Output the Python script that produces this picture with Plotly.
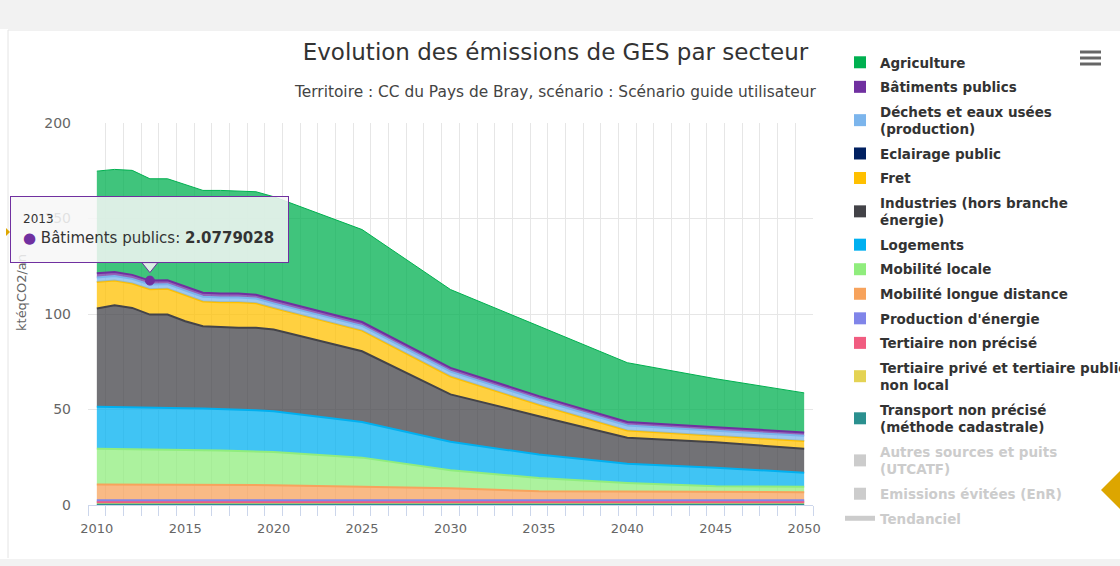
import plotly.graph_objects as go

# ---------------- data (kteqCO2/an) ----------------
years = [2010, 2011, 2012, 2013, 2014, 2015, 2016, 2017, 2018, 2019, 2020,
         2025, 2030, 2035, 2040, 2045, 2050]

agriculture = [53.5, 53.7, 54.7, 53.3, 53.1, 53.2, 53.6, 54.0, 53.6, 53.9, 53.8,
               48.4, 41.0, 36.6, 31.0, 25.4, 20.7]
batiments_publics = [2.13, 2.12, 2.10, 2.0779028, 2.07, 2.06, 2.05, 2.05, 2.04, 2.04, 2.03,
                     2.0, 1.95, 1.9, 1.85, 1.8, 1.8]
dechets = [2.27, 2.28, 2.30, 2.32, 2.33, 2.34, 2.35, 2.35, 2.36, 2.36, 2.37,
           2.40, 2.45, 2.50, 2.55, 2.60, 2.60]
eclairage = [0.1, 0.1, 0.1, 0.1, 0.1, 0.1, 0.1, 0.1, 0.1, 0.1, 0.1,
             0.1, 0.1, 0.1, 0.1, 0.1, 0.1]
fret = [13.9, 12.9, 12.8, 13.3, 13.5, 13.9, 13.0, 13.1, 13.4, 12.8, 11.2,
        10.8, 9.4, 6.0, 3.8, 3.3, 4.1]
industries = [51.4, 53.2, 51.9, 48.5, 48.7, 45.5, 43.1, 42.8, 42.8, 43.2, 42.8,
              37.1, 24.8, 20.1, 13.6, 13.4, 12.5]
logements = [22.0, 22.1, 22.1, 22.1, 22.0, 21.9, 21.9, 21.8, 21.7, 21.6, 21.4,
             18.6, 14.9, 12.2, 10.1, 9.7, 7.4]
mobilite_locale = [18.8, 18.6, 18.5, 18.4, 18.3, 18.1, 18.0, 17.9, 17.7, 17.5, 17.3,
                   15.2, 9.4, 7.0, 4.5, 3.1, 2.8]
mobilite_longue = [8.25, 8.25, 8.25, 8.25, 8.25, 8.25, 8.15, 8.15, 8.15, 8.05, 7.95,
                   7.15, 6.35, 4.75, 4.55, 4.25, 4.25]
production_energie = [0.9, 0.9, 0.9, 0.9, 0.9, 0.9, 0.9, 0.9, 0.9, 0.9, 0.9,
                      0.9, 0.9, 0.9, 0.9, 0.9, 0.9]
tertiaire_np = [0.15, 0.15, 0.15, 0.15, 0.15, 0.15, 0.15, 0.15, 0.15, 0.15, 0.15,
                0.15, 0.15, 0.15, 0.15, 0.15, 0.15]
tertiaire_prive = [1.1, 1.1, 1.1, 1.1, 1.1, 1.1, 1.1, 1.1, 1.1, 1.1, 1.1,
                   1.1, 1.1, 1.1, 1.1, 1.1, 1.1]
transport_np = [0.3, 0.3, 0.3, 0.3, 0.3, 0.3, 0.3, 0.3, 0.3, 0.3, 0.3,
                0.3, 0.3, 0.3, 0.3, 0.3, 0.3]

# legend labels (Highcharts order: first = top of stack)
names = ["Agriculture", "Bâtiments publics", "Déchets et eaux usées<br>(production)",
         "Eclairage public", "Fret", "Industries (hors branche<br>énergie)", "Logements",
         "Mobilité locale", "Mobilité longue distance", "Production d'énergie",
         "Tertiaire non précisé", "Tertiaire privé et tertiaire public<br>non local",
         "Transport non précisé<br>(méthode cadastrale)"]
values = [agriculture, batiments_publics, dechets, eclairage, fret, industries, logements,
          mobilite_locale, mobilite_longue, production_energie, tertiaire_np,
          tertiaire_prive, transport_np]
colors = ["#00B050", "#7030A0", "#7CB5EC", "#002060", "#FFC000", "#434348", "#00B0F0",
          "#90ED7D", "#F7A35C", "#8085E9", "#F15C80", "#E4D354", "#2B908F"]
hidden_names = ["Autres sources et puits<br>(UTCATF)", "Emissions évitées (EnR)", "Tendanciel"]

tooltip_year = 2013
tooltip_series = "Bâtiments publics"

# ---------------- layout geometry ----------------
W, H = 1120, 566
ML, MR, MT, MB = 88, 307, 10, 10          # outer grid area (taller than the axes)
PLOT_TOP, PLOT_BOTTOM = 123, 505          # pixel rows of the y axis
GH = H - MT - MB
PW = W - ML - MR


def px2x(px):
    return (px - ML) / PW


def py2y(py):
    return (H - MB - py) / GH


def rgba(hexc, a):
    h = hexc.lstrip("#")
    return "rgba(%d,%d,%d,%.2f)" % (int(h[0:2], 16), int(h[2:4], 16), int(h[4:6], 16), a)


FONT = "DejaVu Sans"
fig = go.Figure()

# stacked areas: bottom series first
for name, vals, col in reversed(list(zip(names, values, colors))):
    lw = 0 if name == "Eclairage public" else (1 if name == "Agriculture" else 2)
    fig.add_trace(go.Scatter(
        x=years, y=vals, name=name, mode="lines", stackgroup="ges",
        line=dict(color=col, width=lw),
        fillcolor=rgba(col, 0.75), showlegend=False, hoverinfo="skip"))

# legend entries (square swatches)
for name, col in zip(names, colors):
    fig.add_trace(go.Scatter(x=[None], y=[None], mode="markers", name=name, legendgroup=name,
                             marker=dict(symbol="square", size=16, color=col),
                             showlegend=True, hoverinfo="skip"))
for hn in hidden_names:
    styled = "<br>".join('<span style="color:#cccccc">%s</span>' % part for part in hn.split("<br>"))
    if hn == "Tendanciel":
        fig.add_trace(go.Scatter(x=[None], y=[None], mode="lines", name=styled, legendgroup=hn,
                                 line=dict(color="#cccccc", width=1.5), showlegend=True))
    else:
        fig.add_trace(go.Scatter(x=[None], y=[None], mode="markers", name=styled, legendgroup=hn,
                                 marker=dict(symbol="square", size=16, color="#cccccc"),
                                 showlegend=True))

# hovered point (top of the tooltip series)
idx = years.index(tooltip_year)
si = names.index(tooltip_series)
cum = sum(v[idx] for v in values[si:])
fig.add_trace(go.Scatter(x=[tooltip_year], y=[cum], mode="markers", showlegend=False,
                         marker=dict(color="#7030A0", size=9, line=dict(color="#7030A0", width=1)),
                         hoverinfo="skip"))

shapes = [
    # page chrome
    dict(type="rect", xref="paper", yref="paper", x0=px2x(0), x1=px2x(W), y0=py2y(29), y1=py2y(0),
         fillcolor="#f2f2f2", line=dict(width=0), layer="below"),
    dict(type="line", xref="paper", yref="paper", x0=px2x(8), x1=px2x(W), y0=py2y(30), y1=py2y(30),
         line=dict(color="#e4e4e4", width=1)),
    dict(type="line", xref="paper", yref="paper", x0=px2x(8), x1=px2x(8), y0=py2y(30), y1=py2y(558),
         line=dict(color="#e4e4e4", width=1)),
    dict(type="rect", xref="paper", yref="paper", x0=px2x(0), x1=px2x(W), y0=py2y(H), y1=py2y(559),
         fillcolor="#f2f2f2", line=dict(width=0), layer="below"),
    # hamburger menu
    dict(type="line", xref="paper", yref="paper", x0=px2x(1080), x1=px2x(1101), y0=py2y(52), y1=py2y(52),
         line=dict(color="#666666", width=3)),
    dict(type="line", xref="paper", yref="paper", x0=px2x(1080), x1=px2x(1101), y0=py2y(58), y1=py2y(58),
         line=dict(color="#666666", width=3)),
    dict(type="line", xref="paper", yref="paper", x0=px2x(1080), x1=px2x(1101), y0=py2y(64), y1=py2y(64),
         line=dict(color="#666666", width=3)),
    # orange markers of the page
    dict(type="path", xref="paper", yref="paper",
         path="M %f %f L %f %f L %f %f L %f %f Z" % (px2x(1101), py2y(490), px2x(1121), py2y(470),
                                                     px2x(1141), py2y(490), px2x(1121), py2y(510)),
         fillcolor="#DDA600", line=dict(width=0)),
    dict(type="path", xref="paper", yref="paper",
         path="M %f %f L %f %f L %f %f Z" % (px2x(6), py2y(228), px2x(10), py2y(232), px2x(6), py2y(236)),
         fillcolor="#DDA600", line=dict(width=0)),
    # tooltip pointer
    dict(type="path", xref="x", yref="y", xsizemode="pixel", ysizemode="pixel",
         xanchor=tooltip_year, yanchor=cum,
         path="M -8 18 L 0 8 L 8 18 Z",
         fillcolor="rgba(247,247,247,0.85)", line=dict(color="#7030A0", width=1)),
]

annotations = [
    dict(xref="paper", yref="paper", x=px2x(555), y=py2y(92),
         text="Territoire : CC du Pays de Bray, scénario : Scénario guide utilisateur",
         showarrow=False, xanchor="center", yanchor="middle", font=dict(family=FONT, size=15.4, color="#444444")),
    dict(xref="paper", yref="paper", x=px2x(22), y=py2y(293), text="ktéqCO2/an", textangle=-90,
         showarrow=False, xanchor="center", yanchor="middle", font=dict(family=FONT, size=13, color="#666666")),
    dict(xref="x", yref="y", x=tooltip_year, y=cum, yshift=18, xanchor="center", yanchor="bottom",
         showarrow=False, align="left", width=253, height=41, borderpad=12, borderwidth=1,
         bordercolor="#7030A0", bgcolor="rgba(247,247,247,0.85)",
         text=('<span style="font-size:12px">%d</span><br><span style="color:#7030A0">●</span> '
               '%s: <b>%s</b>') % (tooltip_year, tooltip_series, "2.0779028"),
         font=dict(family=FONT, size=15, color="#333333")),
]

fig.update_layout(
    width=W, height=H,
    margin=dict(l=ML, r=MR, t=MT, b=MB, autoexpand=False),
    paper_bgcolor="white", plot_bgcolor="white",
    title=dict(text="Evolution des émissions de GES par secteur", x=555.5 / W, xref="container",
               y=1 - 52 / H, yref="container", xanchor="center", yanchor="middle",
               font=dict(family=FONT, size=23, color="#333333")),
    xaxis=dict(range=[2009.5, 2050.5], tick0=2010, dtick=5, showgrid=False, ticks="",
               zeroline=False, showline=True, linecolor="#ccd6eb", linewidth=1,
               tickfont=dict(family=FONT, size=13, color="#666666"), ticklabelstandoff=11,
               minor=dict(tick0=2009.5, dtick=1, showgrid=True, gridcolor="#e6e6e6", gridwidth=1,
                          ticks="outside", ticklen=10, tickcolor="#ccd6eb", tickwidth=1)),
    yaxis=dict(range=[0, 200], tick0=0, dtick=50, showgrid=True, gridcolor="#e6e6e6",
               domain=[py2y(PLOT_BOTTOM), py2y(PLOT_TOP)],
               zeroline=False, showline=False, ticks="",
               tickfont=dict(family=FONT, size=14, color="#666666"), ticklabelstandoff=16),
    legend=dict(x=px2x(840), xanchor="left", y=py2y(47), yanchor="top", traceorder="grouped",
                font=dict(family=FONT, size=13.5, color="#333333", weight="bold"),
                bgcolor="rgba(0,0,0,0)", tracegroupgap=4, itemsizing="constant"),
    shapes=shapes, annotations=annotations, hovermode=False, showlegend=True,
)

fig.write_html("out.html", config={"displayModeBar": False},
               post_script="document.body.style.margin='0';document.body.style.overflow='hidden';")
